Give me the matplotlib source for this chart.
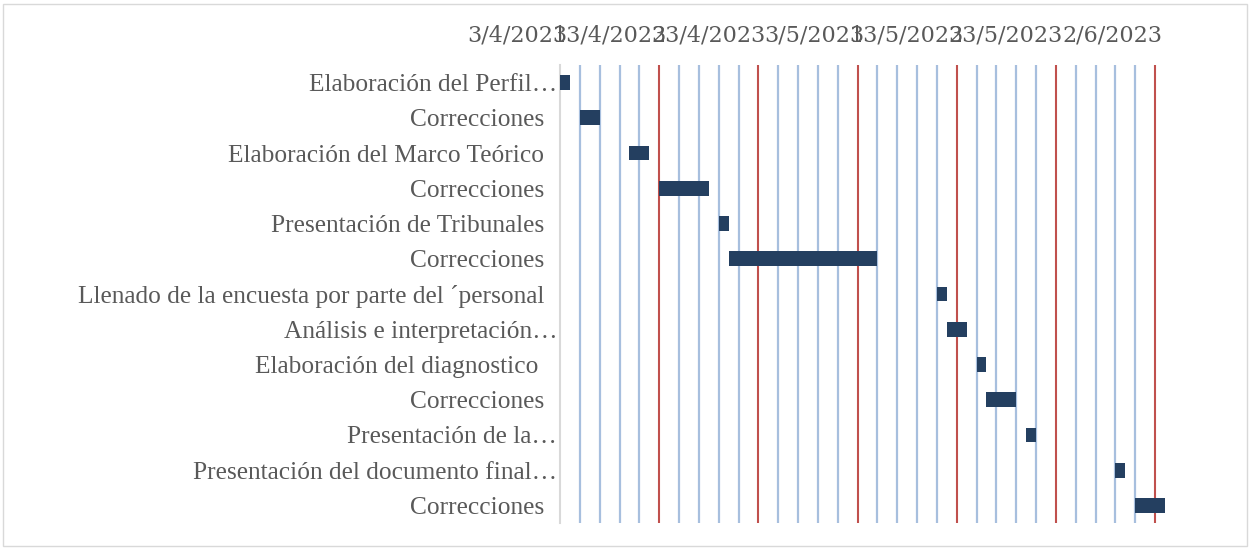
import matplotlib
matplotlib.use('Agg')
import matplotlib.pyplot as plt
import matplotlib.dates as mdates
import matplotlib.transforms as mtransforms
from matplotlib.patches import Rectangle
import pandas as pd

tasks = [
    "Elaboración del Perfil…",
    "Correcciones  ",
    "Elaboración del Marco Teórico  ",
    "Correcciones  ",
    "Presentación de Tribunales  ",
    "Correcciones  ",
    "Llenado de la encuesta por parte del ´personal  ",
    "Análisis e interpretación…",
    "Elaboración del diagnostico   ",
    "Correcciones  ",
    "Presentación de la…",
    "Presentación del documento final…",
    "Correcciones  ",
]
start_dates = ["2023-04-03", "2023-04-05", "2023-04-10", "2023-04-13",
               "2023-04-19", "2023-04-20", "2023-05-11", "2023-05-12",
               "2023-05-15", "2023-05-16", "2023-05-20", "2023-05-29",
               "2023-05-31"]
durations = [1, 2, 2, 5, 1, 15, 1, 2, 1, 3, 1, 1, 3]

axis_start = "2023-04-03"
axis_end = "2023-06-03"

font = 'Liberation Serif'
text_color = '#595959'
bar_color = '#243F60'
minor_color = '#A7BFDE'
major_color = '#C0504D'

starts = mdates.date2num(pd.to_datetime(start_dates))
x0 = mdates.date2num(pd.Timestamp(axis_start))
x1 = mdates.date2num(pd.Timestamp(axis_end))

fig = plt.figure(figsize=(12.5, 5.5), dpi=100)
ax = fig.add_axes([560 / 1250, 1 - 523 / 550, 605 / 1250, 458 / 550])

ypos = list(range(len(tasks)))
ax.barh(ypos, durations, left=starts, height=0.42, color=bar_color, zorder=3)

# gridlines: every 2 days light blue, every 10 days red
for d in range(2, 61, 2):
    xv = x0 + d
    if d % 10 == 0:
        ax.axvline(xv, color=major_color, lw=1.5, zorder=2)
    else:
        ax.axvline(xv, color=minor_color, lw=1.6, zorder=1)

ax.set_xlim(x0, x1)
ax.set_ylim(len(tasks) - 0.5, -0.5)

ax.xaxis.tick_top()
ax.set_xticks([x0 + d for d in range(0, 61, 10)])
ax.xaxis.set_major_formatter(matplotlib.ticker.FuncFormatter(
    lambda v, p: f"{mdates.num2date(v).day}/{mdates.num2date(v).month}/{mdates.num2date(v).year}"))
ax.tick_params(axis='x', length=0, pad=13, labelsize=16, labelcolor=text_color)
offset = mtransforms.ScaledTranslation(7 / 100, 0, fig.dpi_scale_trans)
for lbl in ax.get_xticklabels():
    lbl.set_horizontalalignment('right')
    lbl.set_fontfamily('DejaVu Serif')
    lbl.set_transform(lbl.get_transform() + offset)

ax.set_yticks(ypos)
ax.set_yticklabels(tasks, fontfamily=font)
ax.tick_params(axis='y', length=0, pad=2, labelsize=18.3, labelcolor=text_color)

for s in ['top', 'right', 'bottom']:
    ax.spines[s].set_visible(False)
ax.spines['left'].set_color('#D9D9D9')
ax.spines['left'].set_linewidth(1.5)

fig.patches.append(Rectangle((3 / 1250, 4 / 550), 1244 / 1250, 542 / 550,
                             transform=fig.transFigure, fill=False,
                             edgecolor='#D9D9D9', lw=1))

plt.savefig('out.png', dpi=100)
